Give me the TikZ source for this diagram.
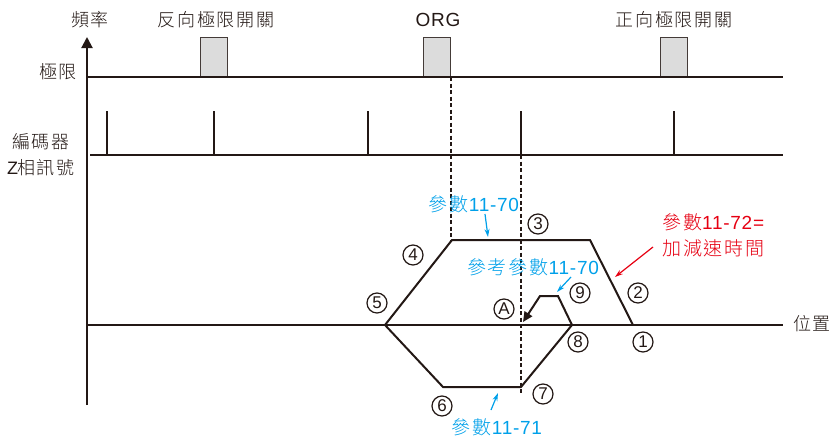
\documentclass[tikz,border=0pt]{standalone}
\usepackage{fontspec}
\setmainfont{Liberation Sans}[LetterSpace=4]
\newfontfamily\cjk{Noto Sans CJK TC Light}[LetterSpace=10]
\usetikzlibrary{arrows.meta}
\definecolor{pblue}{RGB}{0,160,233}
\definecolor{pred}{RGB}{230,0,18}
\definecolor{boxgray}{RGB}{220,220,220}
\definecolor{ink}{RGB}{35,24,21}
\tikzset{
  blk/.style={draw=ink, line width=2pt},
  lbl/.style={inner sep=0pt, text=ink, font=\fontsize{18}{20}\selectfont},
  bluetxt/.style={inner sep=0pt, text=pblue, font=\fontsize{19}{20}\selectfont},
  redtxt/.style={inner sep=0pt, text=pred, font=\fontsize{19}{20}\selectfont},
  num/.style={circle, draw=ink, line width=1.2pt, minimum size=20pt, inner sep=0pt, text=ink, font=\fontsize{17}{17}\selectfont},
  limbox/.style={draw=ink!85, line width=1.8pt, fill=boxgray, minimum width=27pt, minimum height=39pt, inner sep=0pt},
  dline/.style={draw=ink, line width=1.6pt, dash pattern=on 4pt off 2.5pt},
  barrow/.style={draw=pblue, line width=1.2pt, -{Stealth[length=8pt,width=5pt]}},
  rarrow/.style={draw=pred, line width=1.2pt, -{Stealth[length=8pt,width=5pt]}},
}
\begin{document}
\begin{tikzpicture}[x=1pt,y=-1pt]
\useasboundingbox (0,0) rectangle (830,439);
% axes
\coordinate (ybot) at (87,405);
\coordinate (ytop) at (87,37);
\draw[blk, -{Triangle[length=11pt,width=11pt]}] (ybot) -- (ytop);
% limit switches
\node[limbox] (rev) at (214,57) {};
\node[limbox] (org) at (437,57) {};
\node[limbox] (fwd) at (674,57) {};
\coordinate (l0) at (87,77); \coordinate (l1) at (783,77);
\draw[blk] (l0) -- (l1);
% encoder Z pulses
\coordinate (e0) at (90,155); \coordinate (e1) at (783,155);
\draw[blk] (e0) -- (e1);
\foreach \px/\nm in {107/p1,214/p2,368/p3,521/p4,674/p5}{
  \coordinate (\nm b) at (\px,155); \coordinate (\nm t) at (\px,111);
  \draw[blk] (\nm b) -- (\nm t);
}
% dashed guides
\coordinate (d1a) at (451,77); \coordinate (d1b) at (451,240);
\coordinate (d2a) at (521,155); \coordinate (d2b) at (521,393);
\draw[dline] (d1a) -- (d1b);
\draw[dline] (d2a) -- (d2b);
% position axis
\coordinate (x0) at (87,325); \coordinate (x1) at (783,325);
\draw[blk] (x0) -- (x1);
% speed profile
\coordinate (s1) at (633,325);
\coordinate (s2) at (590,240);
\coordinate (s3) at (452,240);
\coordinate (s4) at (385,325);
\coordinate (s5) at (443,387);
\coordinate (s6) at (521,387);
\coordinate (s7) at (572,325);
\coordinate (s8) at (558,296);
\coordinate (s9) at (540,296);
\coordinate (sA) at (523,322);
\draw[blk, line join=miter, -{Triangle[length=10pt,width=9pt]}]
  (s1) -- (s2) -- (s3) -- (s4) -- (s5) -- (s6) -- (s7) -- (s8) -- (s9) -- (sA);
% black labels
\node[lbl] (fq) at (90,20) {\cjk 頻率};
\node[lbl] (revl) at (216,20) {\cjk 反向極限開關};
\node[lbl, font=\fontsize{19}{20}\selectfont] (orgl) at (438,20) {ORG};
\node[lbl] (fwdl) at (674,20) {\cjk 正向極限開關};
\node[lbl] (jx) at (58,72) {\cjk 極限};
\node[lbl] (enc) at (41,142) {\cjk 編碼器};
\node[lbl] (zs) at (41,168) {Z\hspace{-1pt}{\cjk 相訊號}};
\node[lbl] (pos) at (812,324) {\cjk 位置};
% circled numbers
\node[num] (n1) at (643,342) {1};
\node[num] (n2) at (638,293) {2};
\node[num] (n3) at (538,224) {3};
\node[num] (n4) at (413,255) {4};
\node[num] (n5) at (377,303) {5};
\node[num] (n6) at (442,406) {6};
\node[num] (n7) at (543,394) {7};
\node[num] (n8) at (578,342) {8};
\node[num] (n9) at (580,293) {9};
\node[num] (nA) at (504,309) {A};
% blue notes
\node[bluetxt] (b1) at (474,204) {{\cjk 參數}11-70};
\coordinate (b1s) at (485,214); \coordinate (b1e) at (488,237);
\draw[barrow] (b1s) -- (b1e);
\node[bluetxt] (b2) at (533,267) {{\cjk 參考參數}11-70};
\coordinate (b2s) at (571,277); \coordinate (b2e) at (557,292);
\draw[barrow] (b2s) -- (b2e);
\node[bluetxt] (b3) at (497,427) {{\cjk 參數}11-71};
\coordinate (b3s) at (491,410); \coordinate (b3e) at (498,393);
\draw[barrow] (b3s) -- (b3e);
% red note
\node[redtxt, anchor=west] (r1) at (662,222) {{\cjk 參數}11-72=};
\node[redtxt, anchor=west] (r2) at (662,248) {\cjk 加減速時間};
\coordinate (r1s) at (653,247); \coordinate (r1e) at (615,277);
\draw[rarrow] (r1s) -- (r1e);
\end{tikzpicture}
\end{document}
